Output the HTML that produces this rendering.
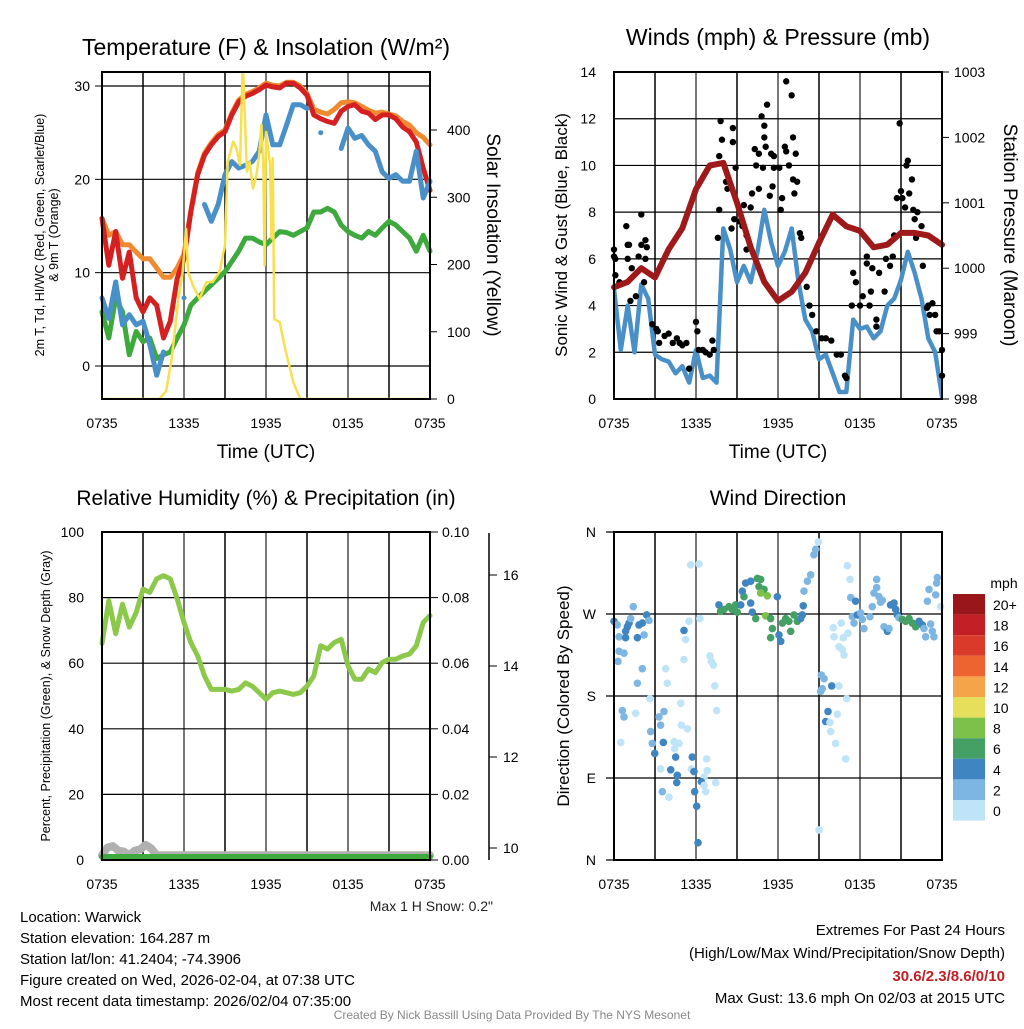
<!DOCTYPE html>
<html><head><meta charset="utf-8"><style>
body{margin:0;background:#fff;}
svg{font-family:"Liberation Sans",sans-serif;}
</style></head><body>
<svg id="s" width="1024" height="1024" viewBox="0 0 1024 1024">
<defs>
<clipPath id="c1"><rect x="102" y="72" width="328" height="327"/></clipPath>
<clipPath id="c2"><rect x="614" y="72" width="328" height="327"/></clipPath>
<clipPath id="c3"><rect x="102" y="532" width="328" height="328"/></clipPath>
</defs>
</svg>
<script>
// ---------- data ----------
const hoursLabels=["0735","1335","1935","0135","0735"];
// half-hourly temperature series (F)
const tempRed=[15.8,10.8,14.4,9.4,12.2,7.3,5.8,7.3,6.5,3,4.8,9.4,11.5,16.5,20.5,22.6,23.7,24.6,25.1,26.9,28.3,28.9,29.2,29.6,30.1,29.9,29.8,30.3,30.3,29.8,29,26.9,26.5,26.2,26,27.3,27.8,28,27.3,27.1,26.4,26.9,26.9,26.5,25.6,25.1,24,21.2,18.8];
const tempOrange=[15.8,14,14.4,13,13,12.2,11.5,11.5,10.5,9.5,9.5,10.5,12,16.6,20.7,22.8,23.9,24.8,25.3,27.1,28.5,29.1,29.4,29.8,30.3,30.1,30,30.4,30.4,30,29.2,27.5,27.2,27,27.5,28.2,28.3,28.2,27.8,27.4,27.1,27.2,27,26.8,26.2,25.8,25,24.5,23.7];
const tempBlue=[7.3,5.1,9,4.4,5.5,4.4,4.8,2.3,-1,1.5,null,null,7.3,null,null,17.3,15.5,17.3,20.5,21.9,21.2,21.5,21.9,23,26.9,23.7,23.7,25.8,28,28,27.6,null,25,null,null,23.3,25.5,24.4,24.7,23.7,23,20.8,20.1,20.5,19.8,19.8,23,18,19.8];
const tempGreen=[5.8,3,7.3,5.8,1.2,3.7,2.6,3,0.8,1.2,1.5,3,4.4,6.5,7.3,8,8.7,9.4,10.1,11.2,12.3,13.7,13.7,13.3,13,13.7,14.4,14.3,14,14.4,14.8,16.5,16.5,16.9,16.5,15.1,14.4,14,13.7,14.4,14,14.8,15.5,15.1,14.4,13.7,12.3,14,12.3];
const solarH=[0,4.2,4.7,5.1,5.6,5.9,6.16,6.3,6.65,7.14,7.63,8.1,8.6,9.0,9.2,9.6,9.83,10.1,10.3,10.6,10.8,11.05,11.3,11.5,11.66,11.8,11.9,12.0,12.3,12.4,12.5,12.6,13.0,13.4,14.0,14.5,24];
const solarV=[0,0,12,60,149,189,253,189,169,149,174,174,189,229,353,383,373,348,500,338,353,313,333,363,408,348,199,397,348,239,358,119,114,75,25,0,0];
// half-hourly sonic wind (mph)
const windSonic=[4.7,2.1,4,2,4.9,4.3,1.9,1.7,1.6,1.1,1.4,0.7,2.1,0.9,1,0.7,7.3,6.4,5,5.7,5,6.3,8.1,6.7,5.7,6.3,7.3,5,3.4,2.9,1.7,1.9,1.1,0.3,0.3,3.4,3,3.1,2.6,2.9,4,4.3,5.1,6.3,5.4,4.3,2.6,2,0.1];
const pressure=[999.71,999.79,1000.0,999.86,1000.29,1000.61,1001.21,1001.57,1001.61,1001.0,1000.32,999.79,999.5,999.64,999.93,1000.39,1000.82,1000.64,1000.57,1000.32,1000.36,1000.54,1000.54,1000.5,1000.36];
const gustH=[0,0,0.1,0.1,0.4,0.9,1.0,1.1,1.0,1.3,1.2,1.6,1.8,2.0,2.0,2.3,2.4,2.3,2.2,2.8,3.1,3.2,3.3,3.7,4.0,4.3,4.6,4.8,5.0,5.3,5.5,6.0,6.1,6.2,6.5,6.7,7.0,7.2,7.3,7.6,7.7,7.7,7.8,7.9,8.2,8.3,8.6,8.7,8.7,8.8,8.9,9.2,9.4,9.5,9.7,9.7,10.0,10.1,10.3,10.4,10.6,10.6,10.8,10.9,11.0,11.0,11.1,11.2,11.4,11.5,11.6,11.7,11.7,12.1,12.2,12.3,12.5,12.6,12.6,12.8,13.0,13.1,13.1,13.2,13.3,13.4,13.6,13.7,14.1,14.3,14.5,14.8,15.2,15.5,15.9,16.3,16.6,16.9,17.0,17.4,17.5,17.7,18.0,18.2,18.5,18.5,18.7,18.8,18.9,19.2,19.2,19.4,19.8,19.9,20.2,20.4,20.5,20.7,20.9,21.0,21.1,21.3,21.4,21.5,21.6,21.8,21.9,22.0,22.1,22.2,22.5,22.6,22.9,23.0,23.1,23.3,23.5,23.6,23.8,24.0,24];
const gustV=[6.4,6.1,6.0,5.3,5.0,7.4,6.6,6.6,6.0,5.6,4.2,4.4,6.1,6.6,7.9,6.8,6.5,6.0,5.0,3.2,3.0,2.9,2.4,2.7,2.8,2.4,2.6,2.4,2.3,2.4,1.3,3.3,2.9,2.1,2.1,2.0,1.9,2.5,2.1,6.9,8.1,10.4,11.9,11.1,9.3,9.0,7.3,11.6,11.0,7.7,9.9,7.6,7.4,8.3,7.0,6.4,8.2,8.8,10.7,10.0,10.5,9.0,12.1,9.9,11.7,11.2,10.8,12.6,8.7,10.5,9.1,9.9,10.4,9.9,8.1,8.6,10.8,13.6,10.6,10.0,13.0,11.2,9.4,8.8,10.5,9.3,7.1,6.9,4.8,4.0,3.6,2.9,2.6,2.6,2.5,1.9,1.9,1.0,0.9,4.0,5.4,5.0,4.0,4.4,6.1,5.8,4.0,4.6,5.6,3.1,3.4,5.4,4.6,6.0,5.7,6.1,7.0,8.6,11.8,8.9,8.6,8.2,10.0,10.2,8.8,9.4,8.1,7.7,6.9,8.0,7.4,5.7,3.9,4.0,3.6,4.1,3.6,2.9,2.9,2.1,1.0];
// half-hourly RH (%)
const rh=[66,79,69,78,71,75.5,82.6,81.6,85.7,86.7,85.7,79.6,72.4,66.3,62.2,56.1,52,52,52,51.5,52,54,53,51,49,51,51.5,51,50.5,51,53,56.1,65.3,64.3,66.3,67.3,59.2,55.1,55.1,58.2,57.1,60.2,61.2,61.2,62.2,62.8,65.3,72.4,74.5];
const snowH=[0,0.4,0.8,1.2,1.6,2.0,2.4,2.8,3.2,3.6,4.0,4.4,24];
const snowV=[9.95,10.12,10.15,10.05,10.03,9.95,10.05,10.08,10.18,10.1,9.95,9.95,9.95];
const precip=[0,0];
const precipH=[0,24];
const dirH=[0,0.24,0.37,0.85,0.98,0.85,1.1,1.22,1.41,1.71,1.83,2.07,2.2,2.39,2.56,0.37,0.73,0.29,2.07,1.71,2.63,0.61,0.73,1.59,0.49,3.29,3.66,3.41,2.68,2.8,3.61,2.98,3.78,3.9,4.88,4.93,5.37,4.39,4.76,4.44,4.51,3.41,4.15,4.63,4.59,3.54,4.02,5.73,5.66,5.85,6.78,6.83,6.59,6.39,6.59,7.44,6.71,5.9,6.05,6.15,5.61,6.22,5.49,6.29,5.12,5.24,5.12,7.02,7.12,7.27,7.37,7.51,
7.68,7.8,8.05,8.41,8.66,8.9,9.02,9.27,9.51,9.39,9.63,10.0,10.49,10.73,10.61,10.98,10.73,11.22,10.0,10.12,10.37,11.1,11.46,11.59,11.46,11.95,12.07,12.2,12.32,12.56,12.8,12.93,13.17,13.41,13.66,13.78,13.85,13.9,14.15,14.39,14.63,14.76,14.95,15.17,15.37,15.24,15.12,15.93,16.46,15.66,15.49,15.8,16.34,15.85,16.22,17.02,16.95,15.0,16.05,16.63,16.1,16.78,17.12,16.46,16.71,16.83,17.07,17.27,
17.32,17.68,17.44,17.56,17.8,18.05,18.17,18.29,18.73,18.9,19.02,19.22,19.22,19.39,19.63,19.51,19.76,20.0,20.12,20.24,20.49,20.61,20.73,20.85,21.1,21.34,21.59,21.83,22.07,22.32,22.56,22.68,22.8,23.17,23.29,23.41,22.93,23.05,23.54,23.66,23.61,23.9];
const dirD=[262,258,245,251,256,244,260,265,278,244,258,260,247,269,263,229,227,218,210,194,177,164,157,161,129,157,163,148,141,128,129,117,210,194,172,148,144,130,128,122,113,100,99,93,85,75,69,113,100,97,111,98,91,86,82,85,75,75,59,19,324,325,262,265,252,242,220,224,218,214,191,164,
280,273,275,278,275,280,272,280,289,295,304,306,309,308,300,297,293,290,282,272,265,268,265,254,244,289,247,240,260,265,262,251,269,262,265,269,279,295,306,313,335,341,349,203,199,188,185,191,191,163,152,151,160,141,128,177,111,33,255,260,245,244,249,234,231,225,323,308,
288,284,267,260,269,271,264,254,267,278,293,308,299,289,285,283,256,251,254,280,282,275,269,266,264,262,265,260,256,262,258,254,245,259,251,245,284,297,291,310,304,278];
const dirS=[4,2,2,4,4,4,4,2,2,4,4,4,2,4,2,2,2,2,2,2,0,2,2,0,0,2,2,2,2,2,4,4,0,0,0,0,0,0,0,0,4,0,4,4,4,2,0,4,0,4,0,0,0,4,0,0,0,4,4,4,0,0,0,0,4,0,0,0,0,0,0,0,
4,6,6,6,6,6,6,4,6,4,4,4,6,6,6,6,8,8,4,4,6,8,6,6,6,4,4,4,6,6,6,6,6,6,4,4,4,2,2,2,2,2,0,2,2,2,2,4,0,4,4,0,0,0,0,0,0,0,0,0,0,0,0,0,0,0,0,0,
2,4,2,2,4,2,2,2,2,2,2,2,2,2,2,2,2,4,2,4,4,4,4,2,6,6,6,6,6,4,4,2,2,2,2,2,2,2,2,2,2,0];
const cbLabels=["20+","18","16","14","12","10","8","6","4","2","0"];
const cbColors=["#99161b","#c21f26","#d93a2a","#ee6430","#f6a449","#e6df5c","#7dc04a","#45a065","#3f85c2","#7db6e2","#bfe4f7"];

// ---------- helpers ----------
const S=document.getElementById('s');const NS="http://www.w3.org/2000/svg";
function mk(tag,attrs,parent){const e=document.createElementNS(NS,tag);for(const k in attrs)e.setAttribute(k,attrs[k]);(parent||S).appendChild(e);return e;}
function txt(x,y,t,size,opts){opts=opts||{};const e=mk('text',{x:x,y:y,'font-size':size,'text-anchor':opts.anchor||'middle',fill:opts.fill||'#000'});if(opts.weight)e.setAttribute('font-weight',opts.weight);if(opts.rot)e.setAttribute('transform','rotate('+opts.rot+' '+x+' '+y+')');e.textContent=t;return e;}
function scale(d0,d1,r0,r1){return v=>r0+(v-d0)/(d1-d0)*(r1-r0);}
function poly(xs,ys,fx,fy,color,w,name,clip){
 let d='';let pen=false;
 xs.forEach((h,i)=>{const v=ys[i];if(v===null||v===undefined){pen=false;return;}
  const X=fx(h).toFixed(1),Y=fy(v).toFixed(1);
  const nextNull=(i+1>=ys.length||ys[i+1]===null);
  if(!pen){d+='M'+X+' '+Y+(nextNull?' l0.1 0':'');pen=true;}else d+='L'+X+' '+Y;});
 const p=mk('path',{d:d,fill:'none',stroke:color,'stroke-width':w,'stroke-linejoin':'round','stroke-linecap':'round'});
 if(clip)p.setAttribute('clip-path','url(#'+clip+')');
 return p;}
function idx(n,step){return Array.from({length:n},(_,i)=>i*step);}
function frame(x0,y0,x1,y1,name){
 const g=mk('g',{});
 for(let i=1;i<8;i++){const x=x0+(x1-x0)*i/8;mk('line',{x1:x,y1:y0,x2:x,y2:y1,stroke:i%2?'#000':'#777','stroke-width':i%2?1.5:2},g);}
 return g;}
function border(x0,y0,x1,y1){mk('rect',{x:x0,y:y0,width:x1-x0,height:y1-y0,fill:'none',stroke:'#000','stroke-width':2});}
function xTicks(x0,x1,y){hoursLabels.forEach((l,i)=>{const t=txt(x0+(x1-x0)*i/4,y+29,l,14);});}

// ---------- Panel 1 ----------
{const X0=102,X1=430,Y0=72,Y1=399;
 const fx=scale(0,24,X0,X1),fy=scale(0,30,366,86),fs=scale(0,400,399,130);
 frame(X0,Y0,X1,Y1,'temperature-grid');
 [0,10,20,30].forEach(v=>{mk('line',{x1:X0,x2:X1,y1:fy(v),y2:fy(v),stroke:'#000','stroke-width':1.2});mk('line',{x1:X0-7,x2:X0,y1:fy(v),y2:fy(v),stroke:'#000'});txt(X0-12,fy(v)+5,String(v),14,{anchor:'end'});});
 [0,100,200,300,400].forEach(v=>{mk('line',{x1:X1,x2:X1+7,y1:fs(v),y2:fs(v),stroke:'#000'});txt(X1+17,fs(v)+5,String(v),14,{anchor:'start'});});
 const hr=idx(49,0.5);
 poly(hr,tempGreen,fx,fy,'#3eaa3e',5,'dewpoint-line');
 poly(hr,tempOrange,fx,fy,'#f08a30',5,'temp-9m-line');
 poly(hr,tempRed,fx,fy,'#d42020',5,'temp-2m-line');
 poly(hr,tempBlue,fx,fy,'#4a90c8',5,'windchill-line');
 poly(solarH,solarV,fx,fs,'#f7e050',2.5,'solar-insolation-line','c1');
 border(X0,Y0,X1,Y1);xTicks(X0,X1,Y1);
 txt(266,55,'Temperature (F) & Insolation (W/m²)',23);
 txt(266,458,'Time (UTC)',19);
 txt(44,235,'2m T, Td, HI/WC (Red, Green, Scarlet/Blue)',12.5,{rot:-90});
 txt(58,235,'& 9m T (Orange)',12.5,{rot:-90});
 txt(487,235,'Solar Insolation (Yellow)',19,{rot:90});
}
// ---------- Panel 2 ----------
{const X0=614,X1=942,Y0=72,Y1=399;
 const fx=scale(0,24,X0,X1),fy=scale(0,14,399,72),fp=scale(998,1003,399,72);
 frame(X0,Y0,X1,Y1,'winds-grid');
 [0,2,4,6,8,10,12,14].forEach(v=>{mk('line',{x1:X0,x2:X1,y1:fy(v),y2:fy(v),stroke:'#000','stroke-width':1.2});txt(X0-18,fy(v)+5,String(v),14,{anchor:'end'});});
 [998,999,1000,1001,1002,1003].forEach(v=>{mk('line',{x1:X1,x2:X1+7,y1:fp(v),y2:fp(v),stroke:'#000'});txt(X1+12,fp(v)+5,String(v),14,{anchor:'start'});});
 poly(idx(49,0.5),windSonic,fx,fy,'#4a90c8',4.5,'sonic-wind-line','c2');
 gustH.forEach((h,i)=>{const c=mk('circle',{cx:fx(h),cy:fy(gustV[i]),r:3.2,fill:'#000'});});
 poly(idx(25,1),pressure,fx,fp,'#9e1a1a',6,'pressure-line');
 border(X0,Y0,X1,Y1);xTicks(X0,X1,Y1);
 txt(778,45,'Winds (mph) & Pressure (mb)',23);
 txt(778,458,'Time (UTC)',19);
 txt(567,235,'Sonic Wind & Gust (Blue, Black)',17,{rot:-90});
 txt(1004,235,'Station Pressure (Maroon)',19,{rot:90});
}
// ---------- Panel 3 ----------
{const X0=102,X1=430,Y0=532,Y1=860;
 const fx=scale(0,24,X0,X1),fy=scale(0,100,860,532),fsn=scale(10,16,848,575),fpr=scale(0,0.1,860,532);
 frame(X0,Y0,X1,Y1,'humidity-grid');
 [0,20,40,60,80,100].forEach(v=>{mk('line',{x1:X0,x2:X1,y1:fy(v),y2:fy(v),stroke:'#000','stroke-width':1.2});txt(X0-18,fy(v)+5,String(v),14,{anchor:'end'});});
 ["0.00","0.02","0.04","0.06","0.08","0.10"].forEach((l,i)=>{const y=fy(i*20);mk('line',{x1:X1,x2:X1+8,y1:y,y2:y,stroke:'#000'});txt(X1+12,y+5,l,14,{anchor:'start'});});
 mk('line',{x1:489,x2:489,y1:533,y2:860,stroke:'#000','stroke-width':1.5});
 [10,12,14,16].forEach(v=>{mk('line',{x1:489,x2:497,y1:fsn(v),y2:fsn(v),stroke:'#000'});txt(503,fsn(v)+5,String(v),14,{anchor:'start'});});
 poly(snowH,snowV,fx,v=>fsn(v)+5,'#b0b0b0',8,'snow-depth-line');
 poly(precipH,precip,fx,v=>fpr(v)-3,'#3eaa3e',6,'precipitation-line');
 poly(idx(49,0.5),rh,fx,fy,'#8cc84a',5,'relative-humidity-line');
 border(X0,Y0,X1,Y1);xTicks(X0,X1,Y1);
 txt(266,505,'Relative Humidity (%) & Precipitation (in)',21);
 txt(50,696,'Percent, Precipitation (Green), & Snow Depth (Gray)',12.5,{rot:-90});
 txt(493,911,'Max 1 H Snow: 0.2"',14,{anchor:'end',fill:'#222'});
}
// ---------- Panel 4 ----------
{const X0=614,X1=942,Y0=532,Y1=860;
 const fx=scale(0,24,X0,X1),fy=scale(0,360,860,532);
 frame(X0,Y0,X1,Y1,'direction-grid');
 ["N","E","S","W","N"].forEach((l,i)=>{const y=fy(i*90);mk('line',{x1:X0-8,x2:X1,y1:y,y2:y,stroke:'#000','stroke-width':1.2});txt(X0-18,y+5,l,14,{anchor:'end'});});
 const ci=s=>10-Math.min(10,Math.round(s/2));
 dirH.forEach((h,i)=>{const c=mk('circle',{cx:fx(h),cy:fy(dirD[i]),r:3.8,fill:cbColors[ci(dirS[i])]});});
 border(X0,Y0,X1,Y1);xTicks(X0,X1,Y1);
 txt(778,505,'Wind Direction',21);
 txt(569,696,'Direction (Colored By Speed)',17,{rot:-90});
 txt(1004,588,'mph',14);
 cbColors.forEach((c,i)=>{const r=mk('rect',{x:953,y:594+i*20.6,width:32,height:20.6,fill:c});txt(993,594+i*20.6+16,cbLabels[i],14,{anchor:'start'});});
}
// ---------- footer text ----------
["Location: Warwick","Station elevation: 164.287 m","Station lat/lon: 41.2404; -74.3906","Figure created on Wed, 2026-02-04, at 07:38 UTC","Most recent data timestamp: 2026/02/04 07:35:00"].forEach((t,i)=>txt(20,922+i*21,t,15,{anchor:'start'}));
txt(1005,935,'Extremes For Past 24 Hours',15,{anchor:'end'});
txt(1005,958,'(High/Low/Max Wind/Precipitation/Snow Depth)',15,{anchor:'end'});
txt(1005,981,'30.6/2.3/8.6/0/10',15,{anchor:'end',fill:'#c41e24',weight:'bold'});
txt(1005,1003,'Max Gust: 13.6 mph On 02/03 at 2015 UTC',15,{anchor:'end'});
txt(512,1019,'Created By Nick Bassill Using Data Provided By The NYS Mesonet',12,{fill:'#888'});
</script>
</body></html>
